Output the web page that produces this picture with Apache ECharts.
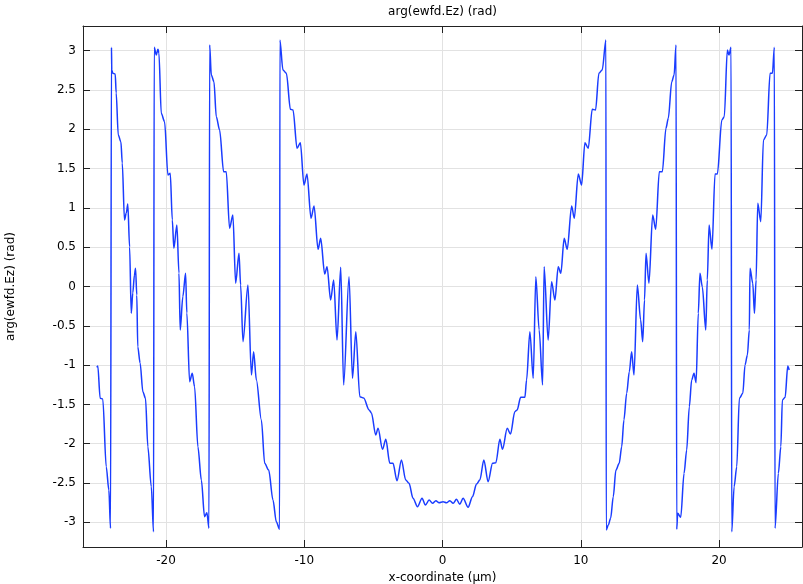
<!DOCTYPE html>
<html>
<head>
<meta charset="utf-8">
<script src="https://cdn.jsdelivr.net/npm/echarts@6/dist/echarts.min.js"></script>
<style>html,body{margin:0;padding:0;background:#fff;}#c{width:803px;height:584px;}</style>
</head>
<body>
<div id="c"></div>
<script>
var xs = [-25.00,-24.93,-24.76,-24.57,-24.32,-24.13,-24.01,-23.94,-23.92,-23.84,-23.67,-23.60,-23.45,-23.26,-23.16,-23.00,-22.87,-22.76,-22.63,-22.51,-22.40,-22.28,-22.20,-22.11,-22.04,-21.87,-21.67,-21.48,-21.31,-21.06,-20.90,
-20.85,-20.70,-20.58,-20.51,-20.34,-20.10,-19.86,-19.69,-19.54,-19.43,-19.21,-19.06,-18.97,-18.78,-18.58,-18.49,-18.29,-18.10,-17.93,-17.69,-17.44,-17.21,-17.04,-16.89,
-16.84,-16.72,-16.53,-16.36,-16.12,-15.83,-15.64,-15.40,-15.16,-14.96,-14.72,-14.60,-14.43,-14.07,-13.82,-13.66,-13.46,-13.10,-12.86,-12.57,-12.26,-12.02,-11.78,
-11.76,-11.54,-11.29,-11.00,-10.81,-10.52,-10.28,-10.02,-9.80,-9.51,-9.29,-9.00,-8.81,-8.52,-8.35,-8.09,-7.87,-7.63,-7.36,-7.15,-6.76,-6.51,-6.27,-5.98,-5.70,-5.31,-5.14,-4.83,-4.66,-4.34,-4.10,-3.81,-3.58,-3.29,-2.97,-2.66,-2.42,-2.13,-1.81,-1.48,-1.23,-0.97,-0.72,-0.48,-0.25,0.04,0.29,0.53,0.77,1.01,1.25,1.49,1.85,2.17,2.46,2.70,2.99,3.30,3.62,3.86,4.15,4.34,4.68,4.92,5.23,5.40,5.65,5.96,6.08,6.32,6.56,6.75,6.99,7.24,7.35,7.64,7.89,8.13,8.37,8.56,8.80,9.02,9.34,9.53,9.82,10.06,10.30,10.54,10.83,11.07,11.31,11.55,11.82,
11.84,11.99,12.16,12.35,12.54,12.78,12.96,13.12,13.32,13.51,13.68,13.85,14.09,14.33,14.48,14.61,14.72,14.93,15.20,15.42,15.68,15.90,16.16,16.33,16.58,16.75,16.89,
16.94,17.01,17.23,17.47,17.66,17.85,18.02,18.19,18.34,18.50,18.62,18.79,19.04,19.15,19.28,19.49,19.71,19.88,20.20,20.38,20.60,20.72,20.87,
20.92,21.09,21.28,21.47,21.72,21.88,22.05,22.19,22.24,22.44,22.56,22.68,22.80,23.02,23.21,23.45,23.69,23.86,24.00,
24.05,24.29,24.47,24.58,24.78,24.97,25.07];
var ys = [-1.028,-1.01,-1.422,-1.431,-2.293,-2.589,-3.076,3.043,2.754,2.712,2.704,2.462,1.927,1.842,1.571,0.846,0.935,1.05,0.503,-0.341,-0.083,0.146,0.232,-0.108,-0.766,-0.973,-1.338,-1.422,-2.038,-2.547,-3.12,
3.043,2.945,3.018,2.971,2.204,2.097,1.419,1.44,0.846,0.486,0.782,0.172,-0.553,-0.13,0.168,-0.337,-1.211,-1.104,-1.275,-2.038,-2.462,-2.929,-2.878,-3.076,
3.073,2.691,2.606,2.16,1.991,1.461,1.461,0.74,0.91,0.041,0.422,0.019,-0.702,0.019,-1.126,-0.83,-1.19,-1.698,-2.249,-2.335,-2.716,-2.992,-3.089,
3.136,2.754,2.712,2.254,2.246,1.758,1.829,1.291,1.431,0.868,1.024,0.473,0.613,0.159,0.252,-0.172,0.083,-0.681,0.244,-1.253,0.125,-1.168,-0.575,-1.402,-1.419,-1.571,-1.609,-1.889,-1.804,-2.071,-1.944,-2.249,-2.249,-2.471,-2.207,-2.462,-2.504,-2.695,-2.802,-2.695,-2.78,-2.716,-2.758,-2.725,-2.751,-2.738,-2.751,-2.725,-2.758,-2.707,-2.771,-2.695,-2.809,-2.674,-2.513,-2.462,-2.207,-2.483,-2.249,-2.242,-1.944,-2.071,-1.804,-1.877,-1.593,-1.571,-1.41,-1.41,-1.19,-0.575,-1.168,0.125,-0.553,-1.253,0.252,-0.681,0.061,-0.172,0.252,0.168,0.613,0.473,1.024,0.868,1.431,1.291,1.829,1.758,2.254,2.246,2.712,2.754,3.136,
-3.098,-3.034,-2.949,-2.674,-2.335,-2.249,-2.038,-1.698,-1.359,-1.084,-0.83,-1.126,0.019,-0.426,-0.702,-0.172,0.422,0.041,0.91,0.728,1.461,1.461,2.013,2.14,2.606,2.691,3.073,
-3.089,-2.885,-2.936,-2.377,-2.08,-1.529,-1.19,-1.104,-1.224,-0.341,0.168,-0.003,-0.553,0.083,0.782,0.473,1.431,1.431,2.118,2.16,3.009,2.945,3.043,
-3.12,-2.547,-2.293,-1.422,-1.359,-0.999,-0.871,-0.553,0.232,0.041,-0.341,0.083,1.059,0.824,1.864,1.927,2.712,2.712,3.043,
-3.076,-2.377,-2.038,-1.444,-1.41,-1.011,-1.062];

var titleText = 'arg(ewfd.Ez) (rad)';
var xName = 'x-coordinate (µm)';
var yName = 'arg(ewfd.Ez) (rad)';

var data = xs.map(function (x, i) { return [x, ys[i]]; });
var font = 'DejaVu Sans';
var frameColor = '#222';
var gridColor = '#e2e2e2';

var chart = echarts.init(document.getElementById('c'), null, {renderer: 'canvas'});
chart.setOption({
  animation: false,
  backgroundColor: '#fff',
  grid: {left: 83, right: 1, top: 26, bottom: 37, containLabel: false, outerBoundsMode: 'none'},
  xAxis: [{
    type: 'value', min: -26, max: 26, splitNumber: 5, position: 'bottom',
    name: xName, nameLocation: 'middle', nameGap: 24,
    nameTextStyle: {fontFamily: font, fontSize: 12, color: '#000'},
    axisLine: {show: true, onZero: false, lineStyle: {color: frameColor, width: 1}},
    axisTick: {show: true, inside: true, length: 7, lineStyle: {color: frameColor}},
    axisLabel: {show: true, fontFamily: font, fontSize: 12, color: '#000', margin: 8, showMinLabel: false, showMaxLabel: false},
    splitLine: {show: true, lineStyle: {color: gridColor, width: 1}}
  }, {
    type: 'value', min: -26, max: 26, splitNumber: 5, position: 'top',
    name: titleText, nameLocation: 'middle', nameGap: 8,
    nameTextStyle: {fontFamily: font, fontSize: 12, color: '#000'},
    axisLine: {show: true, onZero: false, lineStyle: {color: frameColor, width: 1}},
    axisTick: {show: true, inside: true, length: 7, lineStyle: {color: frameColor}},
    axisLabel: {show: false},
    splitLine: {show: false}
  }],
  yAxis: [{
    type: 'value', min: -3.314, max: 3.314, splitNumber: 13, position: 'left',
    name: yName, nameLocation: 'middle', nameGap: 66, nameRotate: 90,
    nameTextStyle: {fontFamily: font, fontSize: 12, color: '#000'},
    axisLine: {show: true, onZero: false, lineStyle: {color: frameColor, width: 1}},
    axisTick: {show: true, inside: true, length: 7, lineStyle: {color: frameColor}},
    axisLabel: {show: true, fontFamily: font, fontSize: 12, color: '#000', margin: 7, showMinLabel: false, showMaxLabel: false},
    splitLine: {show: true, lineStyle: {color: gridColor, width: 1}}
  }, {
    type: 'value', min: -3.314, max: 3.314, splitNumber: 13, position: 'right',
    axisLine: {show: true, onZero: false, lineStyle: {color: frameColor, width: 1}},
    axisTick: {show: true, inside: true, length: 7, lineStyle: {color: frameColor}},
    axisLabel: {show: false},
    splitLine: {show: false}
  }],
  series: [{
    type: 'line',
    data: data,
    xAxisIndex: 0, yAxisIndex: 0,
    showSymbol: false,
    smooth: 0.3,
    smoothMonotone: 'x',
    lineStyle: {color: '#1a3cff', width: 1.5},
    clip: true
  }]
});
</script>
</body>
</html>
